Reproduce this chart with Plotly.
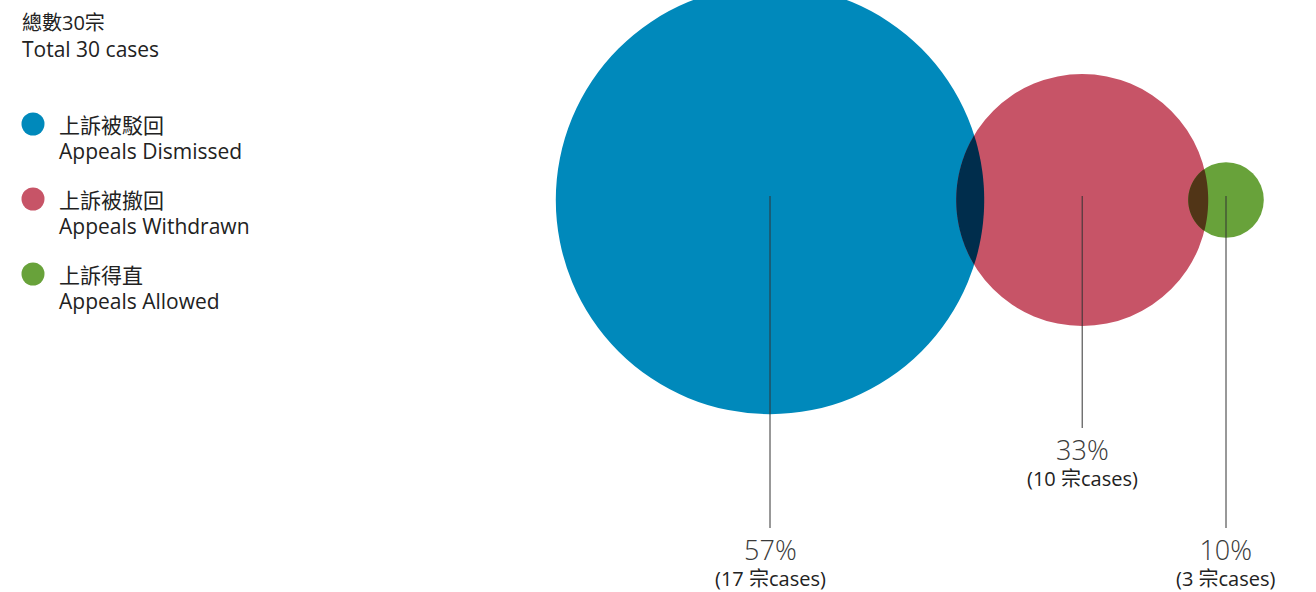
import math
import plotly.graph_objects as go

# Appeal outcomes
labels_zh = ["上訴被駁回", "上訴被撤回", "上訴得直"]
labels_en = ["Appeals Dismissed", "Appeals Withdrawn", "Appeals Allowed"]
cases = [17, 10, 3]
colors = ["#0089bb", "#c75467", "#68a23a"]

total = sum(cases)
W, H = 1316, 592

# circle radius is proportional to the number of cases
px_per_case = 12.6
first_cx, cy = 770, 200
overlaps = [28, 20]  # how far each circle pushes into the previous one

radii = [c * px_per_case for c in cases]
centers = [first_cx]
for i in range(1, len(cases)):
    centers.append(centers[-1] + radii[i - 1] + radii[i] - overlaps[i - 1])

# vertical middle of each two-line value label
label_y = [561, 461, 561]

TEXT = "#222222"
LATIN = "Open Sans"
CJK = "Noto Sans CJK TC"

fig = go.Figure()
shapes = []
annotations = []


def hex_rgb(h):
    h = h.lstrip("#")
    return [int(h[i:i + 2], 16) for i in (0, 2, 4)]


def multiply(c1, c2):
    a, b = hex_rgb(c1), hex_rgb(c2)
    return "rgb({},{},{})".format(*[round(x * y / 255) for x, y in zip(a, b)])


for cx, r, col in zip(centers, radii, colors):
    shapes.append(dict(type="circle", xref="x", yref="y",
                       x0=cx - r, x1=cx + r, y0=cy - r, y1=cy + r,
                       fillcolor=col, line=dict(width=0), layer="below"))


def lens_path(c1, r1, c2, r2, n=120):
    pts = []
    for cx, r, ox, orr in ((c1, r1, c2, r2), (c2, r2, c1, r1)):
        for k in range(n * 4):
            a = 2 * math.pi * k / (n * 4)
            x, y = cx + r * math.cos(a), cy + r * math.sin(a)
            if (x - ox) ** 2 + (y - cy) ** 2 <= orr ** 2:
                pts.append((x, y))
    mx = sum(p[0] for p in pts) / len(pts)
    pts.sort(key=lambda p: math.atan2(p[1] - cy, p[0] - mx))
    return "M " + " L ".join(f"{x:.2f},{y:.2f}" for x, y in pts) + " Z"


# darker overlap where neighbouring circles meet
for i in range(len(cases) - 1):
    shapes.append(dict(type="path", xref="x", yref="y",
                       path=lens_path(centers[i], radii[i], centers[i + 1], radii[i + 1]),
                       fillcolor=multiply(colors[i], colors[i + 1]),
                       line=dict(width=0), layer="below"))

# leader lines and value labels
for cx, ly, c in zip(centers, label_y, cases):
    shapes.append(dict(type="line", xref="x", yref="y", x0=cx, x1=cx,
                       y0=cy - 4, y1=ly - 33, line=dict(color="#333333", width=1)))
    pct = round(c / total * 100)
    annotations.append(dict(
        x=cx, y=ly, xref="x", yref="y", showarrow=False,
        text=(f"<span style='font-size:27px;font-weight:300;color:#3a3a3a'>{pct}%</span>"
              f"<br>({c} 宗cases)"),
        font=dict(family=f"{LATIN}, {CJK}", size=20, color=TEXT),
        xanchor="center", yanchor="middle", align="center", borderpad=0))

# title block
annotations.append(dict(x=20, y=22, xref="x", yref="y", showarrow=False,
                        text=f"總數{total}宗", xanchor="left", yanchor="middle",
                        font=dict(family=f"{LATIN}, {CJK}", size=20, color=TEXT)))
annotations.append(dict(x=20, y=49, xref="x", yref="y", showarrow=False,
                        text=f"Total {total} cases", xanchor="left", yanchor="middle",
                        font=dict(family=LATIN, size=21, color=TEXT)))

# legend
legend_y = [124, 199, 274]
for zh, en, col, ly in zip(labels_zh, labels_en, colors, legend_y):
    fig.add_trace(go.Scatter(x=[33], y=[ly], mode="markers",
                             marker=dict(size=23, color=col), hoverinfo="skip",
                             showlegend=False))
    annotations.append(dict(x=57, y=ly, xref="x", yref="y", showarrow=False,
                            text=zh, xanchor="left", yanchor="middle",
                            font=dict(family=CJK, size=21, color=TEXT)))
    annotations.append(dict(x=57, y=ly + 27, xref="x", yref="y", showarrow=False,
                            text=en, xanchor="left", yanchor="middle",
                            font=dict(family=LATIN, size=21, color=TEXT)))

fig.update_layout(
    width=W, height=H, margin=dict(l=0, r=0, t=0, b=0),
    paper_bgcolor="white", plot_bgcolor="white",
    xaxis=dict(range=[0, W], visible=False, fixedrange=True),
    yaxis=dict(range=[H, 0], visible=False, fixedrange=True),
    shapes=shapes, annotations=annotations, showlegend=False,
)

fig.write_html("out.html", config={"displayModeBar": False})
